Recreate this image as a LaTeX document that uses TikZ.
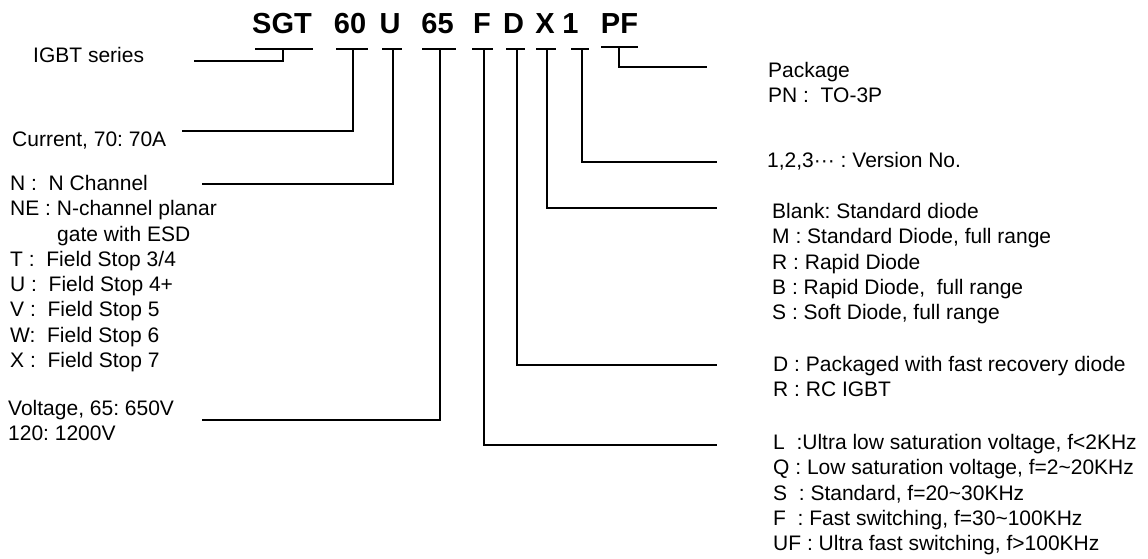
\documentclass[tikz,border=0pt]{standalone}
\usepackage{fontspec}
\setmainfont{Liberation Sans}
\frenchspacing
\usetikzlibrary{positioning, calc}
\tikzset{
  partcode/.style={font=\fontsize{29}{29}\selectfont\bfseries, inner sep=0pt, anchor=base},
  notetext/.style={font=\fontsize{21}{25.3}\selectfont, inner sep=0pt, anchor=north west, align=left},
  leader/.style={line width=1.7pt, line cap=rect},
}

\begin{document}
\begin{tikzpicture}[x=1pt, y=-1pt]
			\useasboundingbox (0,0) rectangle (1148,558);
			% part number
			\node[partcode] (sgt) at (282,33) {SGT};
			\node[partcode] (cur) at (350,33) {60};
			\node[partcode] (typ) at (390,33) {U};
			\node[partcode] (volt) at (437.5,33) {65};
			\node[partcode] (spd) at (482,33) {F};
			\node[partcode] (dio) at (513.5,33) {D};
			\node[partcode] (opt) at (545,33) {X};
			\node[partcode] (ver) at (570.5,33) {1};
			\node[partcode] (pkg) at (619.5,33) {PF};
			% underlines
			\draw[leader] (256,49) -- (312,49);
			\draw[leader] (337,49) -- (367,49);
			\draw[leader] (383,49) -- (401,49);
			\draw[leader] (423,49) -- (455,49);
			\draw[leader] (473,49) -- (492,49);
			\draw[leader] (507,49) -- (524,49);
			\draw[leader] (537,49) -- (555,49);
			\draw[leader] (572,49) -- (588,49);
			\draw[leader] (602,47) -- (637,47);
			% left notes
			\node[notetext, anchor=base west] (series) at (33,62) {IGBT series};
			\node[notetext, anchor=base west] (curnote) at (12,146) {Current, 70: 70A};
			\node[notetext] (typnote) at (10,175) {N :\ \ N Channel\\NE : N-channel planar\\\hspace{47pt}gate with ESD\\T :\ \ Field Stop 3/4\\U :\ \ Field Stop 4+\\V :\ \ Field Stop 5\\W:\ \ Field Stop 6\\X :\ \ Field Stop 7};
			\node[notetext] (voltnote) at (8,400) {Voltage, 65: 650V\\120: 1200V};
			% right notes
			\node[notetext] (pkgnote) at (768,62) {Package\\PN :\ \ TO-3P};
			\node[notetext, anchor=base west] (vernote) at (767,167) {1,2,3··· : Version No.};
			\node[notetext] (optnote) at (772,203) {Blank: Standard diode\\M : Standard Diode, full range\\R : Rapid Diode\\B : Rapid Diode,\ \ full range\\S : Soft Diode, full range};
			\node[notetext] (dionote) at (773,356) {D : Packaged with fast recovery diode\\R : RC IGBT};
			\node[notetext] (spdnote) at (773,434) {L\ \ :Ultra low saturation voltage, f<2KHz\\Q : Low saturation voltage, f=2\textasciitilde 20KHz\\S\ \ : Standard, f=20\textasciitilde 30KHz\\F\ \ : Fast switching, f=30\textasciitilde 100KHz\\UF : Ultra fast switching, f>100KHz};
			% leader lines
			\coordinate (sgtT) at (283,49);  \coordinate (sgtE) at (195,61);
			\coordinate (curT) at (353,49);  \coordinate (curE) at (183,131);
			\coordinate (typT) at (393,49);  \coordinate (typE) at (203,184);
			\coordinate (voltT) at (440,49); \coordinate (voltE) at (203,420);
			\coordinate (spdT) at (484,49);  \coordinate (spdE) at (716,445);
			\coordinate (dioT) at (517,49);  \coordinate (dioE) at (716,365);
			\coordinate (optT) at (547,49);  \coordinate (optE) at (716,208);
			\coordinate (verT) at (582,49);  \coordinate (verE) at (716,162);
			\coordinate (pkgT) at (619,47);  \coordinate (pkgE) at (706,67);
			\draw[leader] (sgtT) |- (sgtE);
			\draw[leader] (curT) |- (curE);
			\draw[leader] (typT) |- (typE);
			\draw[leader] (voltT) |- (voltE);
			\draw[leader] (spdT) |- (spdE);
			\draw[leader] (dioT) |- (dioE);
			\draw[leader] (optT) |- (optE);
			\draw[leader] (verT) |- (verE);
			\draw[leader] (pkgT) |- (pkgE);
		\end{tikzpicture}
\end{document}
